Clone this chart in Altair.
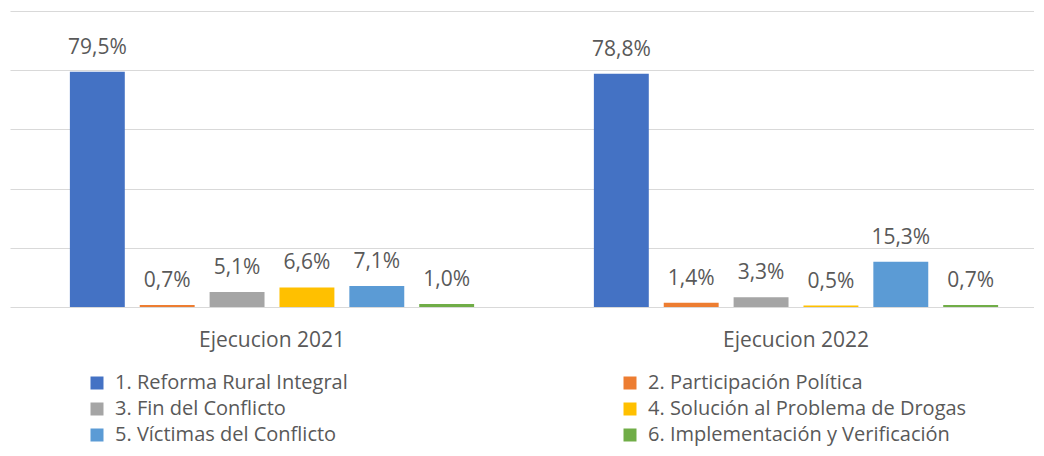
import altair as alt
import pandas as pd

groups = ["Ejecucion 2021", "Ejecucion 2022"]
series = [
    "1. Reforma Rural Integral",
    "2. Participación Política",
    "3. Fin del Conflicto",
    "4. Solución al Problema de Drogas",
    "5. Víctimas del Conflicto",
    "6. Implementación y Verificación",
]
values_2021 = [79.5, 0.7, 5.1, 6.6, 7.1, 1.0]
values_2022 = [78.8, 1.4, 3.3, 0.5, 15.3, 0.7]
colors = ["#4472C4", "#ED7D31", "#A5A5A5", "#FFC000", "#5B9BD5", "#70AD47"]

rows = []
for g, vals in zip(groups, [values_2021, values_2022]):
    for s, v in zip(series, vals):
        rows.append({"grupo": g, "serie": s, "valor": v})
df = pd.DataFrame(rows)

FONT = "Open Sans"
TXT = "#595959"

base = alt.Chart(df).transform_calculate(
    lbl="replace(format(datum.valor, '.1f'), '.', ',') + '%'"
).encode(
    x=alt.X(
        "grupo:N",
        sort=groups,
        title=None,
        scale=alt.Scale(range=[0, 1048], paddingInner=0.2, paddingOuter=0.1),
        axis=alt.Axis(
            labelAngle=0, domain=False, ticks=False, tickSize=0,
            labelFontSize=21, labelFont=FONT, labelColor=TXT,
            labelPadding=22, labelBaseline="top",
        ),
    ),
    xOffset=alt.XOffset(
        "serie:N", sort=series,
        scale=alt.Scale(paddingInner=0.214, paddingOuter=0.107),
    ),
    y=alt.Y(
        "valor:Q",
        title=None,
        scale=alt.Scale(domain=[0, 100], nice=False),
        axis=alt.Axis(
            values=[0, 20, 40, 60, 80, 100], labels=False, ticks=False,
            domain=False, grid=True, gridColor="#D9D9D9", gridWidth=1,
        ),
    ),
)

bars = base.mark_bar().encode(
    color=alt.Color(
        "serie:N",
        sort=series,
        scale=alt.Scale(domain=series, range=colors),
        legend=alt.Legend(
            title=None, orient="none", legendX=77, legendY=362,
            direction="horizontal", columns=2, columnPadding=272,
            rowPadding=6, symbolType="square", symbolSize=169,
            symbolStrokeWidth=0, labelFontSize=20, labelFont=FONT,
            labelColor=TXT, labelOffset=8, labelLimit=400,
        ),
    )
)

text = base.mark_text(
    dy=-18, baseline="alphabetic", fontSize=21, font=FONT, color=TXT
).encode(text="lbl:N")

chart = (
    alt.layer(bars, text)
    .properties(
        width=1024, height=296,
        padding={"left": 2, "top": 3, "right": 0, "bottom": 141},
        autosize=alt.AutoSizeParams(type="none"),
    )
    .configure_view(stroke=None)
)

chart.save("out.html", embed_options={"renderer": "svg", "actions": False})
